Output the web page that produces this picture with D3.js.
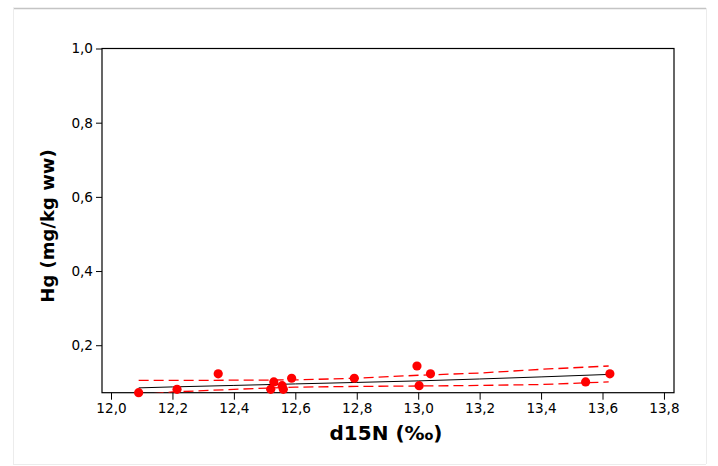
<!DOCTYPE html>
<html>
<head>
<meta charset="utf-8">
<script src="https://cdn.jsdelivr.net/npm/d3@7"></script>
<style>
  html, body { margin: 0; padding: 0; background: #fff; }
  svg { display: block; }
  text { font-family: "DejaVu Sans", Verdana, sans-serif; }
</style>
</head>
<body>
<svg id="chart" width="718" height="466"></svg>
<script>
// ---- data ----
const pointsX = [12.09, 12.215, 12.349, 12.53, 12.52, 12.557, 12.561, 12.588, 12.792, 12.996, 13.003, 13.04, 13.545, 13.624];
const pointsY = [0.072, 0.081, 0.123, 0.101, 0.081, 0.091, 0.081, 0.111, 0.111, 0.144, 0.091, 0.123, 0.101, 0.123];

const fitX     = [12.09, 12.2, 12.4, 12.6, 12.8, 13.0, 13.2, 13.4, 13.62];
const fitY     = [0.085, 0.0876, 0.0916, 0.0957, 0.0997, 0.1038, 0.109, 0.1146, 0.1213];
const upperY   = [0.105, 0.105, 0.1057, 0.1065, 0.111, 0.119, 0.125, 0.135, 0.144];
const lowerY   = [0.066, 0.074, 0.081, 0.087, 0.089, 0.090, 0.0916, 0.094, 0.101];

const xTicks = [12.0, 12.2, 12.4, 12.6, 12.8, 13.0, 13.2, 13.4, 13.6, 13.8];
const yTicks = [0.2, 0.4, 0.6, 0.8, 1.0];
const xLabel = "d15N (‰)";
const yLabel = "Hg (mg/kg ww)";

// ---- layout ----
const svg = d3.select("#chart");
const plot = { left: 102, right: 674, top: 48.5, bottom: 392.7 };

const x = d3.scaleLinear().domain([11.9707, 13.8327]).range([plot.left, plot.right]);
const y = d3.scaleLinear().domain([0.072, 1.0]).range([plot.bottom, plot.top]);
const fmt = d => d3.format(".1f")(d).replace(".", ",");

// outer frame
svg.append("line").attr("x1", 13).attr("x2", 706).attr("y1", 8.5).attr("y2", 8.5)
  .attr("stroke", "#c4c4c4").attr("stroke-width", 1.5);
svg.append("line").attr("x1", 13.5).attr("x2", 13.5).attr("y1", 8).attr("y2", 464)
  .attr("stroke", "#ececec");
svg.append("line").attr("x1", 706.5).attr("x2", 706.5).attr("y1", 8).attr("y2", 464)
  .attr("stroke", "#ececec");
svg.append("line").attr("x1", 13).attr("x2", 706).attr("y1", 464.5).attr("y2", 464.5)
  .attr("stroke", "#ececec");

// clip
svg.append("defs").append("clipPath").attr("id", "clip")
  .append("rect").attr("x", plot.left).attr("y", plot.top)
  .attr("width", plot.right - plot.left).attr("height", plot.bottom - plot.top);

// axes
const xAxis = d3.axisBottom(x).tickValues(xTicks).tickFormat(fmt).tickSize(7).tickSizeOuter(0);
const yAxis = d3.axisLeft(y).tickValues(yTicks).tickFormat(fmt).tickSize(6).tickSizeOuter(0);

const gx = svg.append("g").attr("transform", `translate(0,${plot.bottom})`).call(xAxis);
const gy = svg.append("g").attr("transform", `translate(${plot.left},0)`).call(yAxis);
[gx, gy].forEach(g => {
  g.select(".domain").remove();
  g.selectAll("line").attr("stroke", "#000");
  g.selectAll("text").attr("fill", "#000").style("font-size", "13.6px")
    .style("font-family", '"DejaVu Sans", Verdana, sans-serif');
});
gx.selectAll("text").attr("dy", "0.71em").attr("y", 11);
gy.selectAll("text").attr("x", -9);

// box
svg.append("rect").attr("x", plot.left).attr("y", plot.top)
  .attr("width", plot.right - plot.left).attr("height", plot.bottom - plot.top)
  .attr("fill", "none").attr("stroke", "#000").attr("stroke-width", 1.2);

const g = svg.append("g").attr("clip-path", "url(#clip)");

const lineOf = ys => d3.line().x((d, i) => x(fitX[i])).y((d, i) => y(ys[i]))(ys);

g.append("path").attr("d", lineOf(upperY)).attr("fill", "none")
  .attr("stroke", "#ff0000").attr("stroke-width", 1.3).attr("stroke-dasharray", "10,5");
g.append("path").attr("d", lineOf(lowerY)).attr("fill", "none")
  .attr("stroke", "#ff0000").attr("stroke-width", 1.3).attr("stroke-dasharray", "10,5");
g.append("path").attr("d", lineOf(fitY)).attr("fill", "none")
  .attr("stroke", "#000").attr("stroke-width", 1);

svg.append("g").selectAll("circle").data(pointsX).join("circle")
  .attr("cx", (d, i) => x(pointsX[i]))
  .attr("cy", (d, i) => y(pointsY[i]))
  .attr("r", 4.6)
  .attr("fill", "#ff0000");

// axis titles
svg.append("text").attr("x", 386).attr("y", 440)
  .attr("text-anchor", "middle").style("font-size", "20px").style("font-weight", "bold")
  .text(xLabel);
svg.append("text").attr("transform", `translate(54,226) rotate(-90)`)
  .attr("text-anchor", "middle").style("font-size", "18px").style("font-weight", "bold")
  .text(yLabel);
</script>
</body>
</html>
